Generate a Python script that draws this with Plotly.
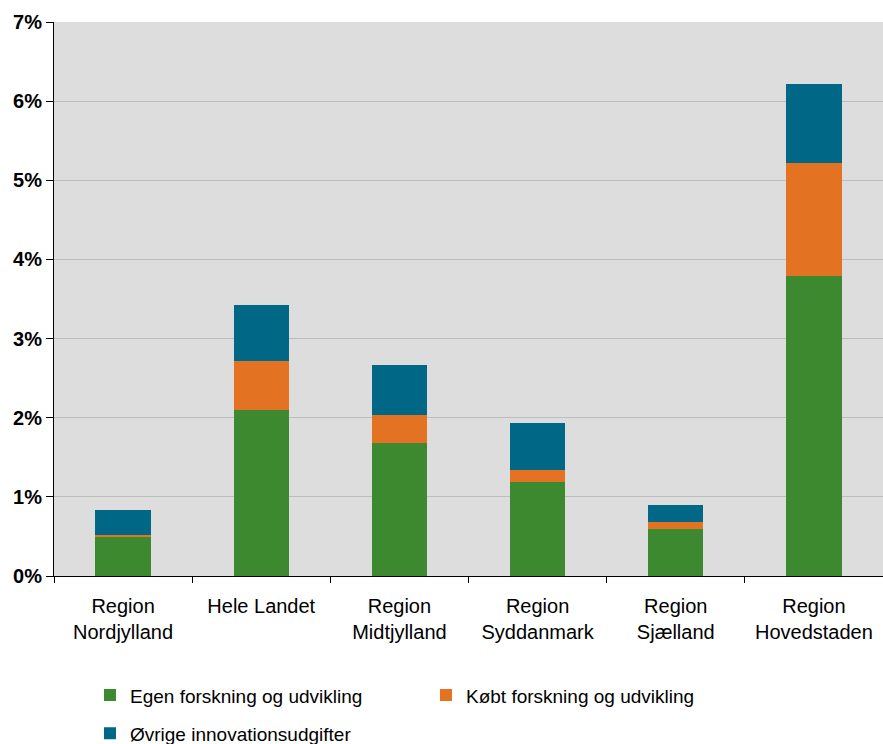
import plotly.graph_objects as go

# Regional innovation expenditure as share of turnover (%)
regions = [
    "Region<br>Nordjylland",
    "Hele Landet",
    "Region<br>Midtjylland",
    "Region<br>Syddanmark",
    "Region<br>Sjælland",
    "Region<br>Hovedstaden",
]
egen_fou = [0.50, 2.10, 1.68, 1.19, 0.59, 3.79]
koebt_fou = [0.02, 0.62, 0.36, 0.15, 0.09, 1.43]
oevrige = [0.31, 0.70, 0.62, 0.59, 0.22, 1.00]

y_ticks = [0, 1, 2, 3, 4, 5, 6, 7]

FONT = "Liberation Sans, Arial, sans-serif"

fig = go.Figure()
fig.add_trace(go.Bar(x=regions, y=egen_fou, name="Egen forskning og udvikling",
                     marker=dict(color="#3d8930", line=dict(width=0)), legend="legend"))
fig.add_trace(go.Bar(x=regions, y=koebt_fou, name="Købt forskning og udvikling",
                     marker=dict(color="#e37322", line=dict(width=0)), legend="legend"))
fig.add_trace(go.Bar(x=regions, y=oevrige, name="Øvrige innovationsudgifter",
                     marker=dict(color="#006886", line=dict(width=0)), legend="legend2"))

fig.update_layout(
    width=883,
    height=744,
    barmode="stack",
    bargap=0.6,
    margin=dict(l=54, r=0, t=22, b=168, pad=0, autoexpand=False),
    paper_bgcolor="white",
    plot_bgcolor="#dddddd",
    font=dict(family=FONT, size=20, color="black"),
    legend=dict(
        orientation="h",
        x=0.0434, y=-0.181, xanchor="left", yanchor="top",
        entrywidth=291, entrywidthmode="pixels",
        itemwidth=30,
        font=dict(size=19, family=FONT, color="black"),
        bgcolor="rgba(0,0,0,0)",
        traceorder="normal",
    ),
    legend2=dict(
        orientation="h",
        x=0.0434, y=-0.250, xanchor="left", yanchor="top",
        itemwidth=30,
        font=dict(size=19, family=FONT, color="black"),
        bgcolor="rgba(0,0,0,0)",
    ),
    showlegend=True,
)

fig.update_xaxes(
    type="category",
    showline=True, linecolor="black", linewidth=1,
    ticks="outside", tickson="boundaries", ticklen=6, tickcolor="black",
    tickfont=dict(size=20, family=FONT, color="black"),
    ticklabelstandoff=12,
    showgrid=False,
    fixedrange=True,
)
fig.update_yaxes(
    range=[0, 7],
    tickvals=y_ticks,
    ticktext=[f"{v}%" for v in y_ticks],
    showline=True, linecolor="black", linewidth=1,
    ticks="outside", ticklen=7, tickcolor="black",
    tickfont=dict(size=20, family=FONT, color="black", weight="bold"),
    showgrid=True, gridcolor="#bdbdbd", gridwidth=1,
    zeroline=False,
    fixedrange=True,
)

fig.write_html("out.html")
